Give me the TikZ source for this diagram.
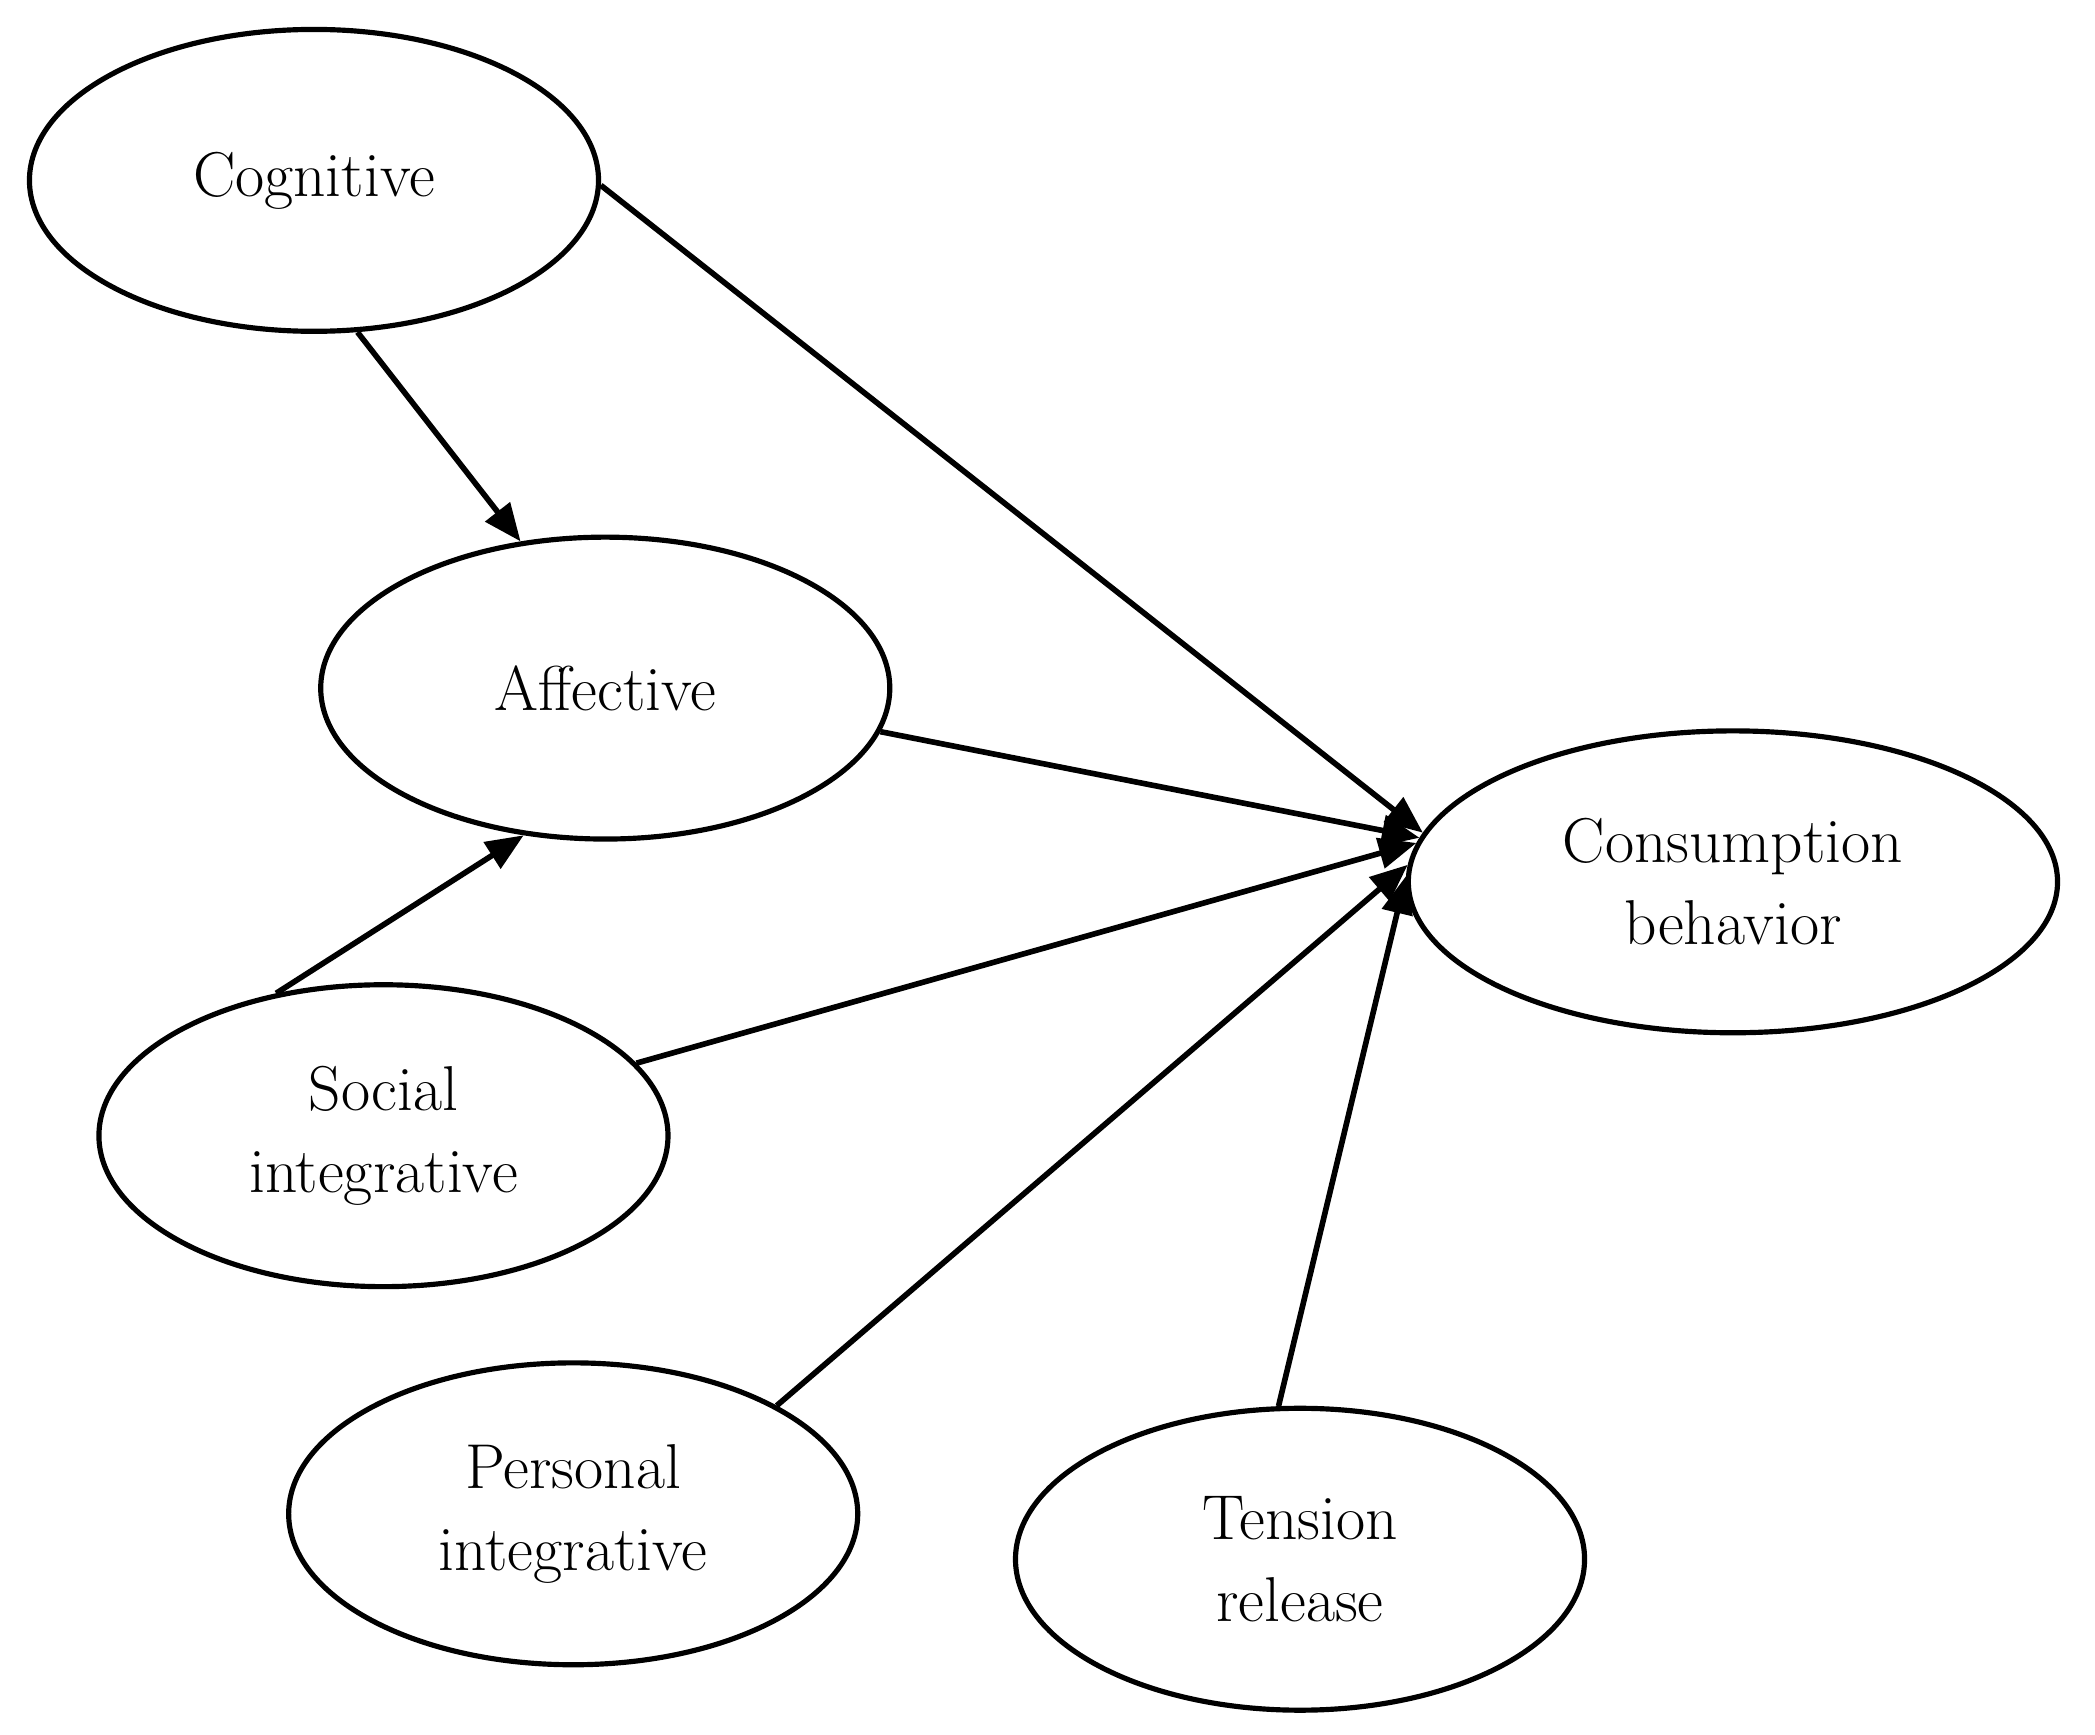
\documentclass[tikz,border=0pt]{standalone}
\usetikzlibrary{shapes.geometric,arrows.meta}
\begin{document}
\begin{tikzpicture}[x=0.02cm,y=-0.02cm,
  el/.style={draw,ellipse,line width=2.2pt,minimum width=8.52cm,minimum height=4.52cm,inner sep=0pt,align=center,font=\fontsize{27}{35}\selectfont},
  ar/.style={line width=2.4pt,-{Triangle[length=16pt,width=13pt]}}]
\useasboundingbox (0,0) rectangle (1568,1298);
\node[el] (cog) at (235,135) {Cognitive};
\node[el] (aff) at (453,515) {Affective};
\node[el,minimum width=9.72cm] (con) at (1297,660) {Consumption\\behavior};
\node[el] (soc) at (287,850) {Social\\integrative};
\node[el] (per) at (429,1133) {Personal\\integrative};
\node[el] (ten) at (973,1167) {Tension\\release};
\draw[ar] (cog.-74) -- (aff.120);
\draw[ar] (cog.-1) -- (con.171);
\draw[ar] (aff.-9) -- (con.172);
\draw[ar] (soc.127) -- (aff.-119);
\draw[ar] (soc.16) -- (con.173);
\draw[ar] (per.28) -- (con.177);
\draw[ar] (ten.98) -- (con.179);
\end{tikzpicture}
\end{document}
